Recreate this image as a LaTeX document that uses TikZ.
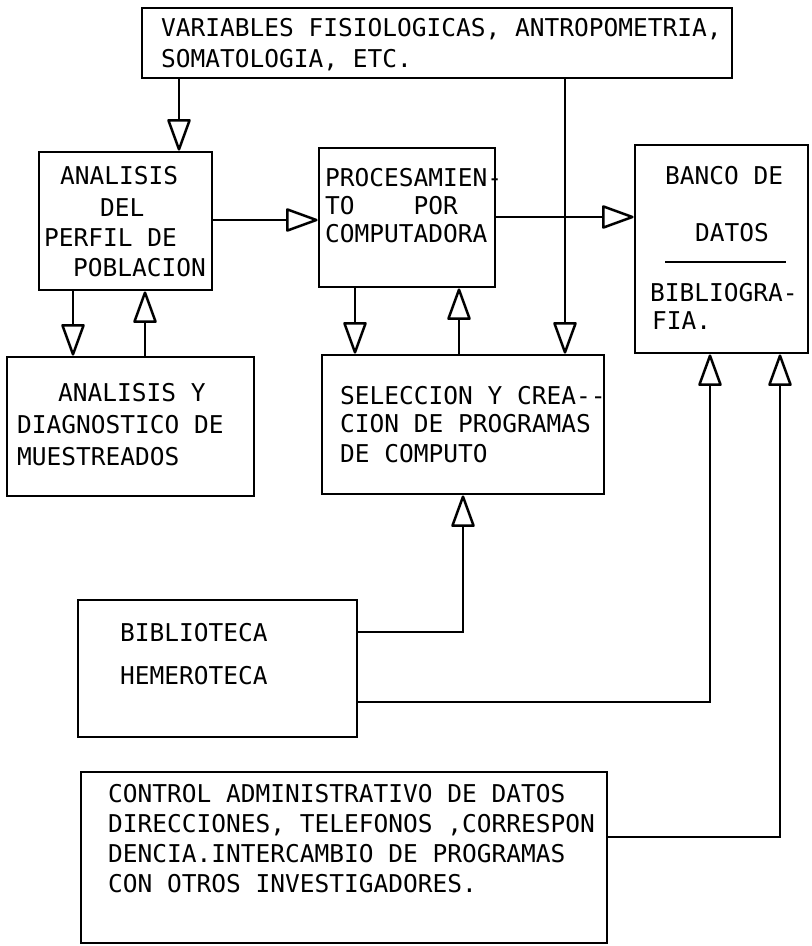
\documentclass[tikz,border=0pt]{standalone}
\usepackage{fontspec}
\setmonofont{DejaVu Sans Mono}
\usetikzlibrary{positioning,arrows.meta}

\begin{document}
\begin{tikzpicture}[x=1pt,y=-1pt,
  box/.style={draw, line width=2.8pt, inner sep=0pt},
  txt/.style={anchor=base west, inner sep=0pt, font=\ttfamily\fontsize{24.5}{30}\selectfont},
  flow/.style={line width=2.5pt, -{Triangle[open, round, length=34pt, width=24pt]}}]
\useasboundingbox (0,0) rectangle (812,946);
% boxes
\node[box, minimum width=590pt, minimum height=70pt] (vars) at (437,43) {};
\node[box, minimum width=173pt, minimum height=138pt] (perfil) at (125.5,221) {};
\node[box, minimum width=176pt, minimum height=139pt] (proc) at (407,217.5) {};
\node[box, minimum width=173pt, minimum height=208pt] (banco) at (721.5,249) {};
\node[box, minimum width=247pt, minimum height=139pt] (diag) at (130.5,426.5) {};
\node[box, minimum width=282pt, minimum height=139pt] (selec) at (463,424.5) {};
\node[box, minimum width=279pt, minimum height=137pt] (biblio) at (217.5,668.5) {};
\node[box, minimum width=526pt, minimum height=171pt] (ctrl) at (344,857.5) {};
% texts
\node[txt] (vars1) at (161,36) {VARIABLES FISIOLOGICAS, ANTROPOMETRIA,};
\node[txt] (vars2) at (161,67) {SOMATOLOGIA, ETC.};
\node[txt] (perfil1) at (60,184) {ANALISIS};
\node[txt] (perfil2) at (100,216) {DEL};
\node[txt] (perfil3) at (44,246) {PERFIL DE};
\node[txt] (perfil4) at (73,276) {POBLACION};
\node[txt] (proc1) at (325,186) {PROCESAMIEN-};
\node[txt] (proc2) at (325,214) {TO\ \ \ \ POR};
\node[txt] (proc3) at (325,242) {COMPUTADORA};
\node[txt] (banco1) at (665,184) {BANCO DE};
\node[txt] (banco2) at (695,241) {DATOS};
\node[txt] (banco3) at (650,301) {BIBLIOGRA-};
\node[txt] (banco4) at (652,329) {FIA.};
\node[txt] (diag1) at (58,401) {ANALISIS Y};
\node[txt] (diag2) at (17,433) {DIAGNOSTICO DE};
\node[txt] (diag3) at (17,465) {MUESTREADOS};
\node[txt] (selec1) at (340,404) {SELECCION Y CREA-{}-};
\node[txt] (selec2) at (340,432) {CION DE PROGRAMAS};
\node[txt] (selec3) at (340,462) {DE COMPUTO};
\node[txt] (biblio1) at (120,641) {BIBLIOTECA};
\node[txt] (biblio2) at (120,684) {HEMEROTECA};
\node[txt] (ctrl1) at (108,802) {CONTROL ADMINISTRATIVO DE DATOS};
\node[txt] (ctrl2) at (108,832) {DIRECCIONES, TELEFONOS ,CORRESPON};
\node[txt] (ctrl3) at (108,862) {DENCIA.INTERCAMBIO DE PROGRAMAS};
\node[txt] (ctrl4) at (108,892) {CON OTROS INVESTIGADORES.};
\draw[line width=1.2pt] (665,262) -- (786,262);
% connectors
\draw[flow] (vars.south -| 179,0) -- (perfil.north -| 179,0);
\draw[flow] (perfil.east |- 0,220) -- (proc.west |- 0,220);
\draw[flow] (proc.east |- 0,217) -- (banco.west |- 0,217);
\draw[flow] (vars.south -| 565,0) -- (selec.north -| 565,0);
\draw[flow] (perfil.south -| 73,0) -- (diag.north -| 73,0);
\draw[flow] (diag.north -| 145,0) -- (perfil.south -| 145,0);
\draw[flow] (proc.south -| 355,0) -- (selec.north -| 355,0);
\draw[flow] (selec.north -| 459,0) -- (proc.south -| 459,0);
\draw[flow] (biblio.east |- 0,632) -| (selec.south -| 463,0);
\draw[flow] (biblio.east |- 0,702) -| (banco.south -| 710,0);
\draw[flow] (ctrl.east |- 0,837) -| (banco.south -| 780,0);
\end{tikzpicture}
\end{document}
